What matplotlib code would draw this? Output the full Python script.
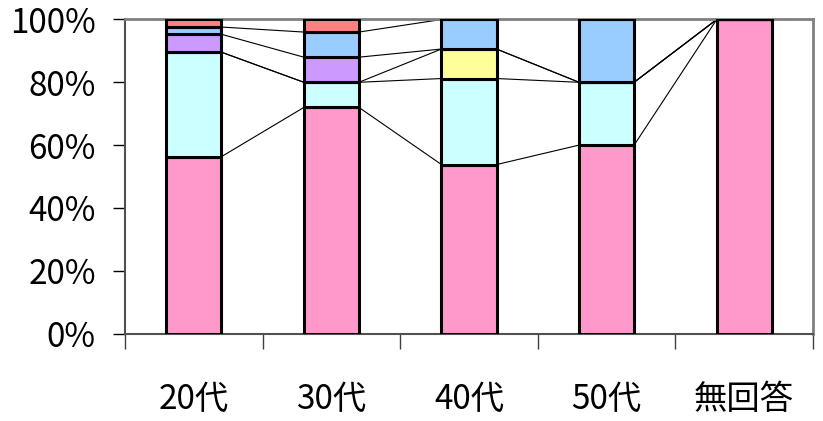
import numpy as np
import matplotlib
matplotlib.use("Agg")
import matplotlib.pyplot as plt

plt.rcParams['font.family'] = ['Noto Sans CJK JP', 'DejaVu Sans']

# Age groups and share of each answer (percent, stacked bottom to top)
categories = ['20代', '30代', '40代', '50代', '無回答']
pink = [56.3, 72.0, 53.8, 60.0, 100.0]
cyan = [33.3, 8.0, 27.4, 20.0, 0.0]
yellow = [0.0, 0.0, 9.4, 0.0, 0.0]
purple = [5.7, 8.0, 0.0, 0.0, 0.0]
blue = [2.3, 8.0, 9.4, 20.0, 0.0]
red = [2.4, 4.0, 0.0, 0.0, 0.0]

series = [pink, cyan, yellow, purple, blue, red]
colors = ['#FF99CC', '#CCFFFF', '#FFFF99', '#CC99FF', '#99CCFF', '#FF8080']
yticks = [0, 20, 40, 60, 80, 100]

fig = plt.figure(figsize=(8.23, 4.21), dpi=100)
ax = fig.add_axes([125 / 823, 1 - 333.5 / 421, 688 / 823, 314 / 421])

x = np.arange(len(categories))
width = 0.4
bottom = np.zeros(len(categories))
tops = []
for vals, c in zip(series, colors):
    vals = np.array(vals)
    ax.bar(x, vals, width, bottom=bottom, color=c, edgecolor='black',
           linewidth=2.2, zorder=3)
    bottom = bottom + vals
    tops.append(bottom.copy())

# series lines joining segment tops of neighbouring bars
for t in tops:
    for i in range(len(categories) - 1):
        ax.plot([x[i] + width / 2, x[i + 1] - width / 2], [t[i], t[i + 1]],
                color='black', linewidth=0.8, zorder=2)

ax.set_xlim(-0.5, len(categories) - 0.5)
ax.set_ylim(0, 100)

ax.set_yticks(yticks)
ax.set_yticklabels([f'{v}%' for v in yticks])
ax.tick_params(axis='y', direction='out', length=9, width=1, pad=12,
               labelsize=24, color='black')

ax.set_xticks(np.arange(-0.5, len(categories), 1.0))
ax.set_xticklabels([])
ax.tick_params(axis='x', which='major', direction='out', length=11, width=1,
               color='#404040')
ax.set_xticks(x, minor=True)
ax.set_xticklabels(categories, minor=True)
ax.tick_params(axis='x', which='minor', length=0, pad=35, labelsize=24)

for side in ['top', 'right']:
    ax.spines[side].set_color('#808080')
    ax.spines[side].set_linewidth(2)
for side in ['left', 'bottom']:
    ax.spines[side].set_color('#505050')
    ax.spines[side].set_linewidth(1.5)

fig.savefig('out.png', dpi=100)
